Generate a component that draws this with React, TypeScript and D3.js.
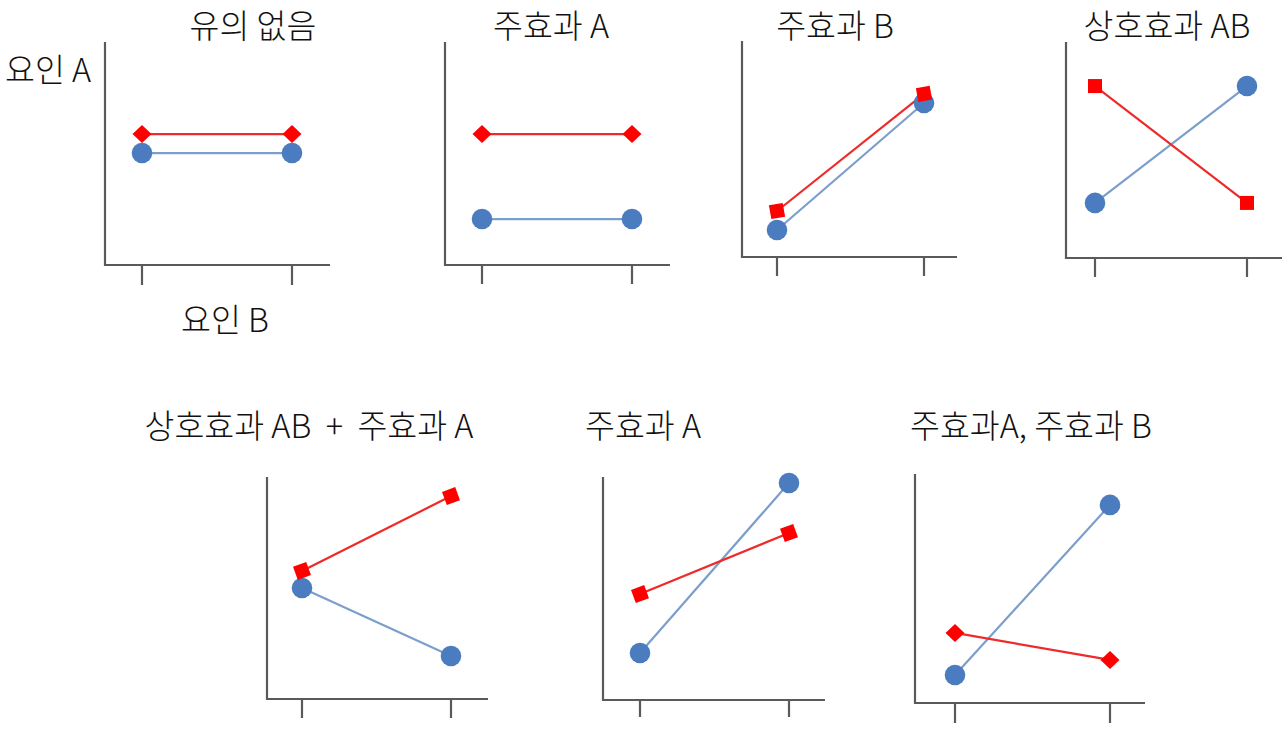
import React from "react";
import * as d3 from "d3";

// Factor B levels (x categories)
const levelsB = ["B1", "B2"];

// Panel titles
const titles = [
  "유의 없음",
  "주효과 A",
  "주효과 B",
  "상호효과 AB",
  "상호효과 AB  +  주효과 A",
  "주효과 A",
  "주효과A, 주효과 B",
];

// Series values (0–100 scale of each panel's y axis)
const redValues = [
  [58.7, 58.7],
  [58.7, 58.7],
  [21.3, 75.5],
  [79.6, 25.5],
  [57.7, 91.4],
  [47.5, 74.9],
  [30.6, 18.8],
];
const blueValues = [
  [50.2, 50.2],
  [20.6, 20.6],
  [12.5, 71.3],
  [25.5, 79.6],
  [50.0, 19.4],
  [21.1, 97.3],
  [12.2, 86.5],
];

const redMarker = ["diamond", "diamond", "square", "square", "square", "square", "diamond"];

// Layout (positions only)
const frames = [
  { left: 105, top: 42, bottom: 265, right: 330, t1: 142, t2: 292, tickEnd: 285, tx: 253, ty: 38, rot: 0 },
  { left: 445, top: 42, bottom: 265, right: 670, t1: 482, t2: 632, tickEnd: 284, tx: 551, ty: 38, rot: 0 },
  { left: 742, top: 41, bottom: 257, right: 957, t1: 777, t2: 924, tickEnd: 276, tx: 835, ty: 38, rot: -10 },
  { left: 1066, top: 42, bottom: 258, right: 1282, t1: 1095, t2: 1247, tickEnd: 277, tx: 1167, ty: 38, rot: 0 },
  { left: 267, top: 477, bottom: 699, right: 488, t1: 302, t2: 451, tickEnd: 718, tx: 309, ty: 438, rot: -20 },
  { left: 603, top: 477, bottom: 700, right: 825, t1: 640, t2: 789, tickEnd: 717, tx: 643, ty: 438, rot: -20 },
  { left: 915, top: 474, bottom: 703, right: 1145, t1: 955, t2: 1110, tickEnd: 723, tx: 1031, ty: 438, rot: 0 },
];

const FONT = "'Noto Sans CJK KR', 'Noto Sans', sans-serif";
const FS = 32.5;
const AXIS = "#5a5a5a";
const RED = "#ff0000";
const RED_LINE = "#ee2a2a";
const BLUE = "#4a7cbf";
const BLUE_LINE = "#7c9ecb";

function Panel({ i }: { i: number }) {
  const f = frames[i];
  const x = d3.scalePoint<string>().domain(levelsB).range([f.t1, f.t2]);
  const y = d3.scaleLinear().domain([0, 100]).range([f.bottom, f.top]);
  const line = d3
    .line<number>()
    .x((_, j) => x(levelsB[j]) as number)
    .y((v) => y(v));
  const red = redValues[i];
  const blue = blueValues[i];
  return (
    <g>
      <text
        x={f.tx}
        y={f.ty}
        textAnchor="middle"
        fontFamily={FONT}
        fontSize={FS}
        fontWeight={300}
        fill="#111"
        style={{ whiteSpace: "pre" }}
      >
        {titles[i]}
      </text>
      <path
        d={`M${f.left},${f.top}V${f.bottom}H${f.right}`}
        fill="none"
        stroke={AXIS}
        strokeWidth={2.2}
      />
      {levelsB.map((l) => (
        <line
          key={l}
          x1={x(l)}
          x2={x(l)}
          y1={f.bottom}
          y2={f.tickEnd}
          stroke={AXIS}
          strokeWidth={2.2}
        />
      ))}
      <path d={line(blue) || ""} fill="none" stroke={BLUE_LINE} strokeWidth={2.2} />
      <path d={line(red) || ""} fill="none" stroke={RED_LINE} strokeWidth={2.2} />
      {blue.map((v, j) => (
        <circle key={"b" + j} cx={x(levelsB[j])} cy={y(v)} r={10.3} fill={BLUE} />
      ))}
      {red.map((v, j) => {
        const cx = x(levelsB[j]) as number;
        const cy = y(v);
        if (redMarker[i] === "diamond") {
          return (
            <path
              key={"r" + j}
              d={`M${cx},${cy - 9}L${cx + 9.5},${cy}L${cx},${cy + 9}L${cx - 9.5},${cy}Z`}
              fill={RED}
            />
          );
        }
        return (
          <rect
            key={"r" + j}
            x={cx - 7}
            y={cy - 7}
            width={14}
            height={14}
            fill={RED}
            transform={`rotate(${f.rot},${cx},${cy})`}
          />
        );
      })}
    </g>
  );
}

export default function App() {
  return (
    <svg
      width={1282}
      height={731}
      style={{ position: "absolute", left: 0, top: 0, background: "#fff" }}
    >
      <rect width={1282} height={731} fill="#fff" />
      {titles.map((_, i) => (
        <Panel key={i} i={i} />
      ))}
      <text x={5} y={82} fontFamily={FONT} fontSize={FS} fontWeight={300} fill="#111">
        요인 A
      </text>
      <text x={225} y={332} textAnchor="middle" fontFamily={FONT} fontSize={FS} fontWeight={300} fill="#111">
        요인 B
      </text>
    </svg>
  );
}
